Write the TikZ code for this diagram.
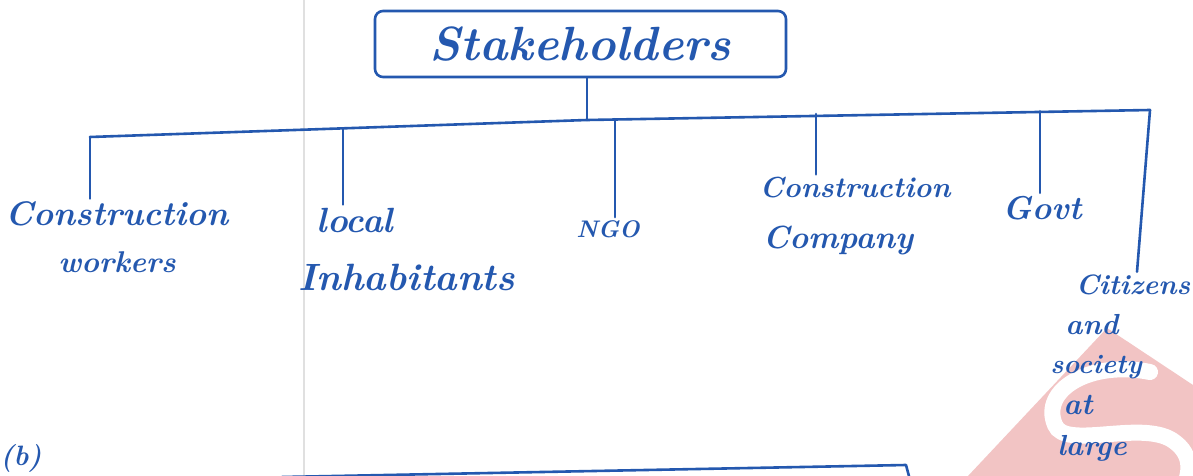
\documentclass[tikz,border=0pt]{standalone}
\usetikzlibrary{calc}
\definecolor{ink}{RGB}{36,88,175}
\definecolor{logored}{RGB}{242,196,196}
\newcommand{\hand}[1]{\bfseries\itshape\fontsize{#1}{#1}\selectfont}
\tikzset{
  pen/.style={draw=ink, line width=2.6pt, line cap=round, line join=round},
  lbl/.style={text=ink, inner sep=3pt, anchor=center},
}
\begin{document}
\begin{tikzpicture}[x=1pt, y=-1pt]
  \useasboundingbox (0,0) rectangle (1193,476);
  \clip (0,0) rectangle (1193,476);
  \fill[white] (0,0) rectangle (1193,476);

  % paper margin line
  \draw[black!12, line width=1.2pt] (304,0) -- (304,476);

  % corner logo
  \fill[logored] (968,476) -- (1107,328) -- (1193,385) -- (1193,476) -- cycle;
  \draw[white, line width=16pt, line cap=round]
    (1150,372) .. controls (1090,360) and (1040,390) .. (1055,425)
    .. controls (1065,450) and (1140,420) .. (1172,440)
    .. controls (1195,455) and (1190,476) .. (1180,495);

  % root
  \node[pen, rounded corners=8pt, minimum width=411pt, minimum height=66pt, text=ink,
        font=\hand{48}] (st) at (580.5,44) {Stakeholders};

  % branch bar
  \coordinate (hub) at (587,120);
  \coordinate (b1) at (90,137);
  \coordinate (b2) at (343,128.4);
  \coordinate (b3) at (615,119.3);
  \coordinate (b4) at (816,114);
  \coordinate (b5) at (1040,111.3);
  \coordinate (b6) at (1150,110);
  \draw[pen] (st.south -| hub) -- (hub);
  \draw[pen] (b1) -- (hub) -- (b6);

  % labels
  \node[lbl, font=\hand{34}] (cw1) at (117,214) {Construction};
  \node[lbl, font=\hand{30}] (cw2) at (117,262) {workers};
  \node[lbl, font=\hand{35}] (li1) at (355,220) {local};
  \node[lbl, font=\hand{38}] (li2) at (407,277) {Inhabitants};
  \node[lbl, font=\hand{24}] (ngo) at (608,229) {NGO};
  \node[lbl, font=\hand{29}] (cc1) at (855,188) {Construction};
  \node[lbl, font=\hand{32}] (cc2) at (838,240) {Company};
  \node[lbl, font=\hand{33}] (gv)  at (1042,208) {Govt};
  \node[lbl, font=\hand{28}] (cz1) at (1133,285) {Citizens};
  \node[lbl, font=\hand{29}] (cz2) at (1092,325) {and};
  \node[lbl, font=\hand{27}] (cz3) at (1096,367) {society};
  \node[lbl, font=\hand{30}] (cz4) at (1078,405) {at};
  \node[lbl, font=\hand{29}] (cz5) at (1092,448) {large};

  % drops to the stakeholder groups
  \draw[pen] (b1) -- (b1 |- cw1.north);
  \draw[pen] (b2) -- (b2 |- li1.north);
  \draw[pen] (b3) -- (b3 |- ngo.north);
  \draw[pen] (b4) -- (b4 |- cc1.north);
  \draw[pen] (b5) -- (b5 |- gv.north);
  \draw[pen] (b6) -- ([xshift=4pt]cz1.north);

  % next part, cut off at the page edge
  \node[lbl, font=\hand{28}] (partb) at (21,458) {(b)};
  \coordinate (nb1) at (282,477);
  \coordinate (nb2) at (906,465);
  \coordinate (nb3) at (910,480);
  \draw[pen] (nb1) -- (nb2) -- (nb3);
\end{tikzpicture}
\end{document}
